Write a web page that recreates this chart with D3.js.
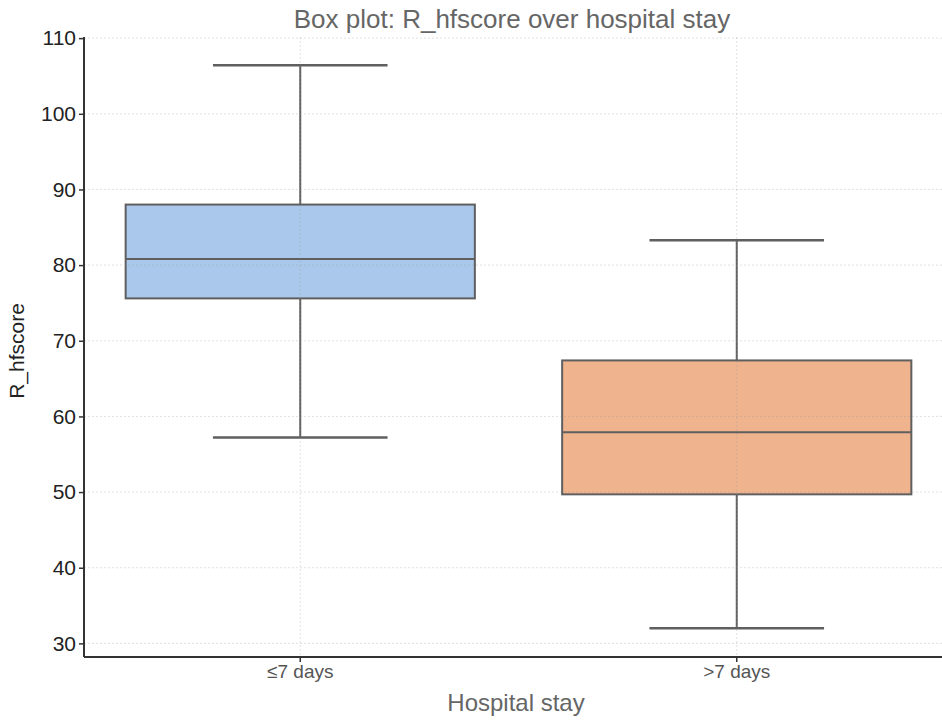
<!DOCTYPE html>
<html>
<head>
<meta charset="utf-8">
<script src="https://cdn.jsdelivr.net/npm/d3@7"></script>
<style>
  body { margin: 0; background: #fff; }
  svg { font-family: "Liberation Sans", Arial, sans-serif; }
</style>
</head>
<body>
<div class="root"></div>
<script>
// values
const groups = ['≤7 days', '>7 days'];
const whiskerLow = [57.2, 32.0];
const q1 = [75.6, 49.7];
const median = [80.8, 57.9];
const q3 = [88.0, 67.4];
const whiskerHigh = [106.4, 83.3];
const colors = ['#aac8eb', '#efb48e'];
const yTicks = [30, 40, 50, 60, 70, 80, 90, 100, 110];

const width = 942;
const height = 720;
const margin = { top: 37, left: 84, bottom: 63, right: -13 };

const svg = d3.select('.root')
  .append('svg')
  .attr('width', width)
  .attr('height', height);

const x = d3.scaleBand()
  .domain(groups)
  .range([margin.left - 2, width - margin.right])
  .paddingInner(0.2)
  .paddingOuter(0.1);

const y = d3.scaleLinear()
  .domain([28.2, 110.15])
  .range([height - margin.bottom, margin.top]);

const boxes = groups.map((g, i) => ({
  g, i,
  lo: whiskerLow[i], q1: q1[i], med: median[i], q3: q3[i], hi: whiskerHigh[i]
}));

const lineColor = '#5f5f5f';

// boxes
const box = svg.append('g')
  .selectAll('g')
  .data(boxes)
  .enter()
  .append('g');

box.append('line')
  .attr('x1', d => x(d.g) + x.bandwidth() / 2)
  .attr('x2', d => x(d.g) + x.bandwidth() / 2)
  .attr('y1', d => y(d.hi))
  .attr('y2', d => y(d.q3))
  .attr('stroke', lineColor)
  .attr('stroke-width', 2);

box.append('line')
  .attr('x1', d => x(d.g) + x.bandwidth() / 2)
  .attr('x2', d => x(d.g) + x.bandwidth() / 2)
  .attr('y1', d => y(d.q1))
  .attr('y2', d => y(d.lo))
  .attr('stroke', lineColor)
  .attr('stroke-width', 2);

box.selectAll('.cap')
  .data(d => [d, d].map((e, k) => ({ g: e.g, v: k ? e.hi : e.lo })))
  .enter()
  .append('line')
  .attr('class', 'cap')
  .attr('x1', d => x(d.g) + x.bandwidth() / 4)
  .attr('x2', d => x(d.g) + x.bandwidth() * 3 / 4)
  .attr('y1', d => y(d.v))
  .attr('y2', d => y(d.v))
  .attr('stroke', lineColor)
  .attr('stroke-width', 2.5);

box.append('rect')
  .attr('x', d => x(d.g))
  .attr('width', x.bandwidth())
  .attr('y', d => y(d.q3))
  .attr('height', d => y(d.q1) - y(d.q3))
  .attr('fill', d => colors[d.i])
  .attr('stroke', lineColor)
  .attr('stroke-width', 2);

box.append('line')
  .attr('x1', d => x(d.g))
  .attr('x2', d => x(d.g) + x.bandwidth())
  .attr('y1', d => y(d.med))
  .attr('y2', d => y(d.med))
  .attr('stroke', lineColor)
  .attr('stroke-width', 2);

// grid on top, faint
const grid = svg.append('g')
  .attr('stroke', '#999')
  .attr('stroke-opacity', 0.3)
  .attr('stroke-dasharray', '2,2');

grid.selectAll('.hg')
  .data(yTicks)
  .enter()
  .append('line')
  .attr('x1', margin.left)
  .attr('x2', width)
  .attr('y1', d => y(d))
  .attr('y2', d => y(d));

grid.selectAll('.vg')
  .data(groups)
  .enter()
  .append('line')
  .attr('x1', d => x(d) + x.bandwidth() / 2)
  .attr('x2', d => x(d) + x.bandwidth() / 2)
  .attr('y1', margin.top)
  .attr('y2', height - margin.bottom);

// axes
const yAxis = svg.append('g')
  .attr('transform', `translate(${margin.left}, 0)`)
  .call(d3.axisLeft(y).tickValues(yTicks).tickSize(5).tickSizeOuter(0).tickPadding(3));

yAxis.select('.domain')
  .attr('stroke', '#333')
  .attr('stroke-width', 2)
  .attr('d', `M0,${margin.top}V${height - margin.bottom}`);
yAxis.selectAll('.tick line').attr('stroke', '#333').attr('stroke-width', 1.5);
yAxis.selectAll('.tick text')
  .attr('fill', '#222')
  .style('font-size', '21px');

const xAxis = svg.append('g')
  .attr('transform', `translate(0, ${height - margin.bottom})`)
  .call(d3.axisBottom(x).tickSize(5).tickSizeOuter(0).tickPadding(3));

xAxis.select('.domain')
  .attr('stroke', '#333')
  .attr('stroke-width', 2)
  .attr('d', `M${margin.left},0H${width}`);
xAxis.selectAll('.tick line').attr('stroke', '#333').attr('stroke-width', 1.5);
xAxis.selectAll('.tick text')
  .attr('fill', '#555')
  .style('font-size', '19px');

// labels
svg.append('text')
  .attr('x', 512)
  .attr('y', 28)
  .attr('text-anchor', 'middle')
  .attr('fill', '#666')
  .style('font-size', '26px')
  .text('Box plot: R_hfscore over hospital stay');

svg.append('text')
  .attr('x', 516)
  .attr('y', 711)
  .attr('text-anchor', 'middle')
  .attr('fill', '#666')
  .style('font-size', '24px')
  .text('Hospital stay');

svg.append('text')
  .attr('transform', `translate(24, 351) rotate(-90)`)
  .attr('text-anchor', 'middle')
  .attr('fill', '#222')
  .style('font-size', '21px')
  .text('R_hfscore');
</script>
</body>
</html>
